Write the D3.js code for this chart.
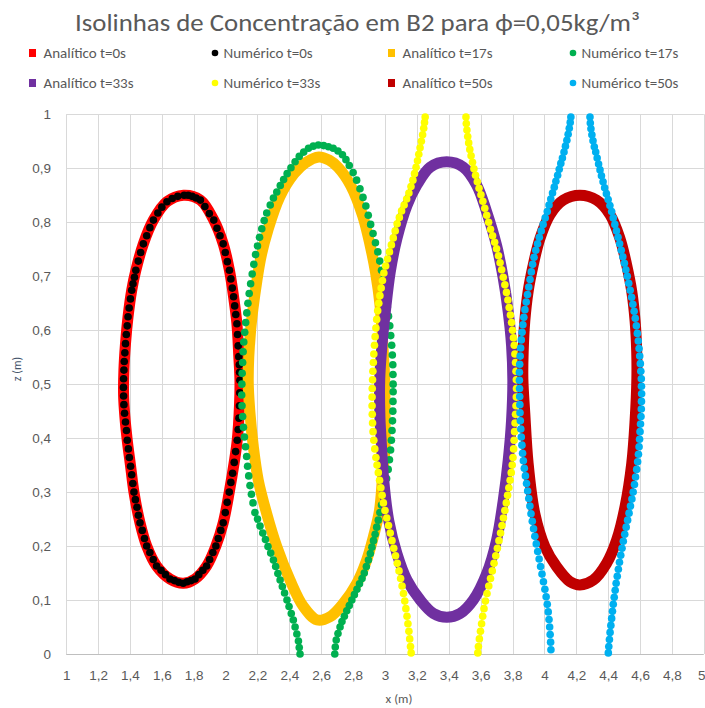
<!DOCTYPE html>
<html>
<head>
<meta charset="utf-8">
<script src="https://cdn.jsdelivr.net/npm/d3@7"></script>
<style>
  html, body { margin: 0; padding: 0; background: #ffffff; }
  svg { display: block; font-family: Calibri, Carlito, Lato, "Open Sans", sans-serif; }
</style>
</head>
<body>
<div id="chart"></div>
<script>
// ---- Tick values ----
const xTickValues = [1, 1.2, 1.4, 1.6, 1.8, 2, 2.2, 2.4, 2.6, 2.8, 3, 3.2, 3.4, 3.6, 3.8, 4, 4.2, 4.4, 4.6, 4.8, 5];
const yTickValues = [0, 0.1, 0.2, 0.3, 0.4, 0.5, 0.6, 0.7, 0.8, 0.9, 1];

// ---- Series names (legend order) ----
const seriesNames = [
  "Analítico t=0s", "Numérico t=0s", "Analítico t=17s", "Numérico t=17s",
  "Analítico t=33s", "Numérico t=33s", "Analítico t=50s", "Numérico t=50s"
];

// ---- Analytical isolines (x, z) in metres, closed contours ----
const analiticoT0 = [
  [1.736,0.850],[1.632,0.838],[1.547,0.804],[1.484,0.760],[1.437,0.711],[1.411,0.674],[1.388,0.625],
  [1.372,0.575],[1.362,0.526],[1.360,0.480],[1.368,0.440],[1.383,0.396],[1.404,0.348],[1.425,0.300],
  [1.463,0.243],[1.505,0.200],[1.567,0.163],[1.651,0.139],[1.734,0.131],[1.808,0.139],[1.881,0.163],
  [1.939,0.200],[1.985,0.243],[2.023,0.300],[2.054,0.355],[2.073,0.396],[2.087,0.460],[2.090,0.507],
  [2.083,0.551],[2.071,0.612],[2.050,0.662],[2.024,0.711],[1.985,0.760],[1.926,0.804],[1.842,0.841]
];
const analiticoT17 = [
  [2.585,0.921],[2.500,0.910],[2.430,0.890],[2.340,0.847],[2.265,0.785],[2.225,0.740],[2.197,0.693],
  [2.157,0.600],[2.142,0.507],[2.153,0.446],[2.174,0.384],[2.205,0.322],[2.258,0.260],[2.321,0.199],
  [2.404,0.137],[2.488,0.088],[2.575,0.063],[2.655,0.069],[2.739,0.094],[2.823,0.131],[2.885,0.174],
  [2.927,0.217],[2.965,0.265],[2.985,0.330],[3.000,0.384],[3.000,0.446],[2.998,0.510],[2.985,0.580],
  [2.969,0.646],[2.940,0.708],[2.907,0.757],[2.860,0.812],[2.785,0.868],[2.705,0.902],[2.650,0.915]
];
const analiticoT33 = [
  [3.387,0.912],[3.283,0.902],[3.200,0.869],[3.138,0.831],[3.075,0.770],[3.033,0.708],[3.002,0.634],
  [2.981,0.572],[2.967,0.510],[2.968,0.440],[2.975,0.400],[2.992,0.322],[3.023,0.248],[3.075,0.186],
  [3.138,0.137],[3.221,0.100],[3.304,0.075],[3.388,0.068],[3.471,0.075],[3.554,0.100],[3.638,0.149],
  [3.700,0.211],[3.742,0.285],[3.773,0.359],[3.794,0.433],[3.802,0.507],[3.794,0.572],[3.773,0.634],
  [3.742,0.696],[3.700,0.757],[3.638,0.819],[3.575,0.869],[3.492,0.902]
];
const analiticoT50 = [
  [4.223,0.850],[4.118,0.841],[4.035,0.814],[3.972,0.770],[3.930,0.721],[3.898,0.672],[3.877,0.617],
  [3.867,0.561],[3.865,0.510],[3.877,0.446],[3.898,0.353],[3.940,0.260],[4.003,0.199],[4.076,0.162],
  [4.160,0.134],[4.223,0.128],[4.307,0.137],[4.390,0.168],[4.453,0.211],[4.506,0.273],[4.548,0.353],
  [4.569,0.433],[4.580,0.510],[4.579,0.561],[4.569,0.617],[4.548,0.672],[4.516,0.721],[4.474,0.770],
  [4.412,0.814],[4.328,0.841]
];

// ---- Numerical isolines: individual model points (x, z) ----
const numericoT0 = [
  [1.740,0.850],[1.700,0.848],[1.665,0.844],[1.632,0.838],[1.600,0.828],[1.575,0.817],[1.547,0.804],
  [1.525,0.790],[1.505,0.775],[1.484,0.760],[1.467,0.744],[1.452,0.728],[1.437,0.711],[1.428,0.698],
  [1.419,0.686],[1.411,0.674],[1.403,0.658],[1.395,0.641],[1.388,0.625],[1.383,0.608],[1.377,0.592],
  [1.372,0.575],[1.368,0.558],[1.364,0.542],[1.362,0.526],[1.360,0.510],[1.359,0.494],[1.360,0.478],
  [1.362,0.462],[1.366,0.446],[1.372,0.430],[1.378,0.414],[1.383,0.396],[1.390,0.380],[1.396,0.364],
  [1.404,0.348],[1.411,0.332],[1.418,0.316],[1.425,0.300],[1.434,0.286],[1.444,0.272],[1.453,0.257],
  [1.463,0.243],[1.477,0.229],[1.491,0.214],[1.505,0.200],[1.525,0.188],[1.546,0.175],[1.567,0.163],
  [1.595,0.155],[1.623,0.147],[1.651,0.139],[1.679,0.136],[1.706,0.133],[1.734,0.131],[1.759,0.134],
  [1.784,0.136],[1.808,0.139],[1.832,0.147],[1.857,0.155],[1.881,0.163],[1.900,0.175],[1.920,0.188],
  [1.939,0.200],[1.954,0.214],[1.970,0.229],[1.985,0.243],[1.998,0.262],[2.010,0.281],[2.023,0.300],
  [2.033,0.318],[2.044,0.335],[2.054,0.355],[2.063,0.375],[2.073,0.396],[2.079,0.416],[2.084,0.437],
  [2.087,0.460],[2.089,0.484],[2.090,0.507],[2.088,0.522],[2.086,0.536],[2.083,0.551],[2.079,0.571],
  [2.075,0.592],[2.071,0.612],[2.064,0.629],[2.057,0.645],[2.050,0.662],[2.042,0.678],[2.033,0.695],
  [2.024,0.711],[2.011,0.727],[1.998,0.744],[1.985,0.760],[1.965,0.775],[1.946,0.789],[1.926,0.804],
  [1.898,0.816],[1.870,0.829],[1.842,0.841],[1.815,0.845],[1.790,0.848],[1.765,0.850]
];
const numericoT17 = [
  [2.467,0.000],[2.462,0.012],[2.457,0.024],[2.447,0.037],[2.436,0.050],[2.425,0.063],[2.412,0.075],
  [2.398,0.088],[2.385,0.100],[2.370,0.113],[2.356,0.125],[2.342,0.137],[2.328,0.149],[2.314,0.162],
  [2.300,0.174],[2.283,0.187],[2.266,0.199],[2.250,0.212],[2.233,0.224],[2.216,0.237],[2.200,0.250],
  [2.184,0.262],[2.172,0.280],[2.162,0.296],[2.153,0.312],[2.145,0.330],[2.138,0.348],[2.132,0.366],
  [2.125,0.384],[2.118,0.402],[2.112,0.420],[2.107,0.440],[2.103,0.460],[2.101,0.480],[2.102,0.500],
  [2.104,0.520],[2.107,0.540],[2.110,0.560],[2.114,0.578],[2.120,0.596],[2.126,0.614],[2.133,0.632],
  [2.140,0.650],[2.148,0.668],[2.157,0.686],[2.167,0.704],[2.177,0.722],[2.188,0.740],[2.200,0.756],
  [2.213,0.772],[2.227,0.788],[2.242,0.803],[2.258,0.817],[2.280,0.832],[2.300,0.845],[2.321,0.856],
  [2.343,0.868],[2.364,0.879],[2.386,0.890],[2.410,0.901],[2.436,0.912],[2.462,0.922],[2.490,0.930],
  [2.520,0.937],[2.550,0.941],[2.582,0.943],[2.615,0.942],[2.645,0.940],[2.675,0.937],[2.705,0.932],
  [2.733,0.925],[2.755,0.916],[2.776,0.905],[2.800,0.892],[2.822,0.878],[2.843,0.862],[2.862,0.846],
  [2.880,0.830],[2.895,0.813],[2.910,0.796],[2.925,0.779],[2.940,0.762],[2.955,0.745],[2.967,0.728],
  [2.978,0.711],[2.988,0.694],[2.998,0.677],[3.007,0.660],[3.015,0.643],[3.022,0.626],[3.030,0.608],
  [3.036,0.590],[3.042,0.572],[3.046,0.554],[3.049,0.536],[3.050,0.518],[3.051,0.500],[3.051,0.486],
  [3.050,0.468],[3.049,0.450],[3.047,0.432],[3.044,0.414],[3.040,0.396],[3.035,0.378],[3.028,0.360],
  [3.020,0.342],[3.010,0.325],[3.000,0.308],[2.990,0.292],[2.978,0.276],[2.968,0.262],[2.958,0.248],
  [2.948,0.235],[2.938,0.222],[2.928,0.210],[2.918,0.198],[2.908,0.186],[2.896,0.174],[2.883,0.162],
  [2.870,0.150],[2.856,0.140],[2.840,0.130],[2.824,0.120],[2.808,0.110],[2.792,0.100],[2.776,0.090],
  [2.760,0.080],[2.745,0.070],[2.730,0.060],[2.718,0.050],[2.705,0.038],[2.694,0.026],[2.688,0.013],
  [2.685,0.000]
];
const numericoT33 = [
  [3.252,0.995],[3.248,0.985],[3.243,0.974],[3.236,0.962],[3.228,0.950],[3.220,0.938],[3.212,0.926],
  [3.204,0.914],[3.195,0.902],[3.185,0.890],[3.175,0.878],[3.163,0.866],[3.150,0.854],[3.136,0.843],
  [3.120,0.832],[3.104,0.821],[3.090,0.809],[3.076,0.797],[3.064,0.784],[3.052,0.771],[3.040,0.758],
  [3.028,0.745],[3.016,0.732],[3.004,0.719],[2.993,0.706],[2.984,0.692],[2.976,0.678],[2.968,0.664],
  [2.961,0.650],[2.954,0.636],[2.948,0.620],[2.943,0.604],[2.938,0.588],[2.934,0.572],[2.930,0.556],
  [2.927,0.540],[2.924,0.524],[2.922,0.508],[2.920,0.492],[2.919,0.476],[2.919,0.460],[2.920,0.444],
  [2.922,0.428],[2.925,0.412],[2.930,0.396],[2.936,0.380],[2.943,0.364],[2.950,0.350],[2.958,0.336],
  [2.966,0.322],[2.974,0.308],[2.982,0.294],[2.990,0.280],[3.000,0.266],[3.011,0.252],[3.022,0.238],
  [3.033,0.224],[3.044,0.210],[3.055,0.196],[3.066,0.182],[3.077,0.168],[3.088,0.154],[3.098,0.140],
  [3.107,0.126],[3.116,0.112],[3.124,0.098],[3.131,0.084],[3.138,0.070],[3.144,0.056],[3.150,0.042],
  [3.155,0.028],[3.160,0.014],[3.164,0.002],
  [3.508,0.995],[3.510,0.983],[3.514,0.971],[3.519,0.959],[3.525,0.947],[3.532,0.935],[3.540,0.923],
  [3.549,0.911],[3.558,0.899],[3.568,0.887],[3.579,0.875],[3.590,0.863],[3.602,0.851],[3.614,0.839],
  [3.626,0.826],[3.638,0.813],[3.650,0.800],[3.662,0.787],[3.675,0.775],[3.688,0.763],[3.700,0.751],
  [3.712,0.738],[3.722,0.725],[3.732,0.712],[3.742,0.698],[3.752,0.684],[3.762,0.670],[3.771,0.656],
  [3.779,0.642],[3.787,0.628],[3.794,0.614],[3.800,0.600],[3.806,0.586],[3.811,0.572],[3.815,0.556],
  [3.819,0.540],[3.822,0.524],[3.824,0.508],[3.825,0.492],[3.824,0.476],[3.822,0.460],[3.819,0.444],
  [3.816,0.428],[3.813,0.412],[3.810,0.396],[3.807,0.380],[3.803,0.364],[3.798,0.350],[3.792,0.336],
  [3.785,0.322],[3.777,0.308],[3.769,0.294],[3.761,0.280],[3.752,0.266],[3.743,0.252],[3.734,0.238],
  [3.725,0.224],[3.715,0.210],[3.705,0.196],[3.695,0.182],[3.684,0.168],[3.673,0.154],[3.662,0.140],
  [3.651,0.126],[3.640,0.112],[3.630,0.098],[3.621,0.084],[3.613,0.070],[3.606,0.056],[3.599,0.042],
  [3.592,0.028],[3.586,0.014],[3.582,0.002]
];
const numericoT50 = [
  [4.166,0.995],[4.162,0.985],[4.156,0.974],[4.149,0.963],[4.141,0.952],[4.132,0.941],[4.123,0.930],
  [4.113,0.919],[4.103,0.909],[4.093,0.898],[4.083,0.887],[4.072,0.876],[4.062,0.865],[4.051,0.854],
  [4.040,0.843],[4.029,0.832],[4.018,0.820],[4.005,0.808],[3.992,0.796],[3.980,0.784],[3.968,0.772],
  [3.957,0.760],[3.946,0.748],[3.935,0.735],[3.926,0.722],[3.918,0.708],[3.910,0.694],[3.902,0.680],
  [3.894,0.666],[3.886,0.652],[3.878,0.638],[3.871,0.624],[3.865,0.610],[3.860,0.596],[3.855,0.582],
  [3.851,0.567],[3.848,0.552],[3.845,0.537],[3.843,0.522],[3.843,0.507],[3.844,0.492],[3.845,0.477],
  [3.846,0.462],[3.847,0.447],[3.849,0.432],[3.852,0.417],[3.855,0.402],[3.859,0.387],[3.863,0.372],
  [3.868,0.358],[3.874,0.344],[3.881,0.330],[3.888,0.316],[3.895,0.302],[3.902,0.288],[3.909,0.274],
  [3.916,0.260],[3.924,0.246],[3.932,0.232],[3.940,0.218],[3.949,0.204],[3.958,0.190],[3.967,0.176],
  [3.976,0.162],[3.985,0.148],[3.994,0.134],[4.003,0.120],[4.011,0.106],[4.018,0.092],[4.024,0.078],
  [4.029,0.064],[4.033,0.050],[4.036,0.036],[4.039,0.022],[4.041,0.008],
  [4.286,0.995],[4.288,0.984],[4.292,0.973],[4.298,0.962],[4.305,0.951],[4.313,0.940],[4.322,0.930],
  [4.331,0.919],[4.340,0.908],[4.349,0.897],[4.358,0.886],[4.368,0.875],[4.378,0.864],[4.389,0.853],
  [4.400,0.842],[4.411,0.831],[4.422,0.820],[4.432,0.808],[4.442,0.796],[4.452,0.784],[4.462,0.772],
  [4.472,0.760],[4.482,0.748],[4.492,0.736],[4.502,0.724],[4.511,0.712],[4.520,0.700],[4.529,0.687],
  [4.538,0.674],[4.547,0.661],[4.555,0.648],[4.563,0.635],[4.570,0.622],[4.577,0.608],[4.583,0.594],
  [4.589,0.580],[4.594,0.566],[4.598,0.552],[4.602,0.538],[4.605,0.524],[4.608,0.510],[4.609,0.496],
  [4.610,0.482],[4.609,0.468],[4.608,0.454],[4.606,0.440],[4.603,0.426],[4.600,0.412],[4.597,0.398],
  [4.594,0.384],[4.590,0.370],[4.585,0.356],[4.579,0.342],[4.572,0.328],[4.565,0.314],[4.557,0.300],
  [4.549,0.287],[4.540,0.274],[4.531,0.261],[4.522,0.248],[4.513,0.235],[4.504,0.222],[4.495,0.209],
  [4.487,0.196],[4.479,0.183],[4.471,0.170],[4.464,0.157],[4.457,0.144],[4.450,0.131],[4.444,0.118],
  [4.438,0.105],[4.432,0.092],[4.427,0.079],[4.422,0.066],[4.417,0.053],[4.412,0.040],[4.408,0.027],
  [4.404,0.014],[4.401,0.002]
];

// ---- Series table (drawing order = legend order) ----
const series = [
  { name: seriesNames[0], kind: "analitico", color: "#FF0000", data: analiticoT0 },
  { name: seriesNames[1], kind: "numerico",  color: "#000000", data: numericoT0 },
  { name: seriesNames[2], kind: "analitico", color: "#FFC000", data: analiticoT17 },
  { name: seriesNames[3], kind: "numerico",  color: "#00B050", data: numericoT17 },
  { name: seriesNames[4], kind: "analitico", color: "#7030A0", data: analiticoT33 },
  { name: seriesNames[5], kind: "numerico",  color: "#FFFF00", data: numericoT33 },
  { name: seriesNames[6], kind: "analitico", color: "#C00000", data: analiticoT50 },
  { name: seriesNames[7], kind: "numerico",  color: "#00B0F0", data: numericoT50 }
];

// ---- Layout ----
const W = 705, H = 708;
const plot = { left: 66.2, right: 703.8, top: 114.3, bottom: 654 };
const textColor = "#595959";
const gridColor = "#D9D9D9";

const x = d3.scaleLinear().domain([1, 5]).range([plot.left, plot.right]);
const y = d3.scaleLinear().domain([0, 1]).range([plot.bottom, plot.top]);
const fmt = v => String(+v.toFixed(1)).replace(".", ",");
const crisp = v => Math.round(v) + 0.5;

const svg = d3.select("#chart").append("svg")
  .attr("width", W).attr("height", H)
  .attr("viewBox", `0 0 ${W} ${H}`);

svg.append("rect").attr("width", W).attr("height", H).attr("fill", "#ffffff");

// Title
svg.append("text")
  .attr("x", 357.5).attr("y", 31)
  .attr("text-anchor", "middle")
  .attr("fill", textColor)
  .style("font-size", "25px")
  .attr("textLength", 565).attr("lengthAdjust", "spacingAndGlyphs")
  .text("Isolinhas de Concentração em B2 para ϕ=0,05kg/m³");

// Gridlines
const grid = svg.append("g").attr("class", "grid");
grid.selectAll("line.v").data(xTickValues).join("line")
  .attr("class", "v")
  .attr("x1", d => crisp(x(d))).attr("x2", d => crisp(x(d)))
  .attr("y1", y(0)).attr("y2", y(1))
  .attr("stroke", gridColor).attr("stroke-width", 1);
grid.selectAll("line.h").data(yTickValues).join("line")
  .attr("class", "h")
  .attr("y1", d => crisp(y(d))).attr("y2", d => crisp(y(d)))
  .attr("x1", x(1)).attr("x2", x(5))
  .attr("stroke", d => d === 0 ? "#BFBFBF" : gridColor).attr("stroke-width", 1);

// Axes (labels only; lines come from the grid)
const xAxis = d3.axisBottom(x).tickValues(xTickValues).tickFormat(fmt).tickSize(0).tickPadding(0);
const gx = svg.append("g").attr("transform", `translate(0,${plot.bottom + 26})`).call(xAxis);
gx.select(".domain").remove();
gx.selectAll("text").attr("fill", textColor).attr("dy", 0)
  .style("font-size", "13.5px").style("font-family", null);
// the last label sits on the right edge of the page: keep it inside
gx.selectAll(".tick").filter(d => d === 5).select("text")
  .attr("text-anchor", "end").attr("x", W - 703.8);

const yAxis = d3.axisLeft(y).tickValues(yTickValues).tickFormat(fmt).tickSize(0).tickPadding(0);
const gy = svg.append("g").attr("transform", `translate(${51},0)`).call(yAxis);
gy.select(".domain").remove();
gy.selectAll("text").attr("fill", textColor).attr("dy", "0.33em").attr("x", 0)
  .style("font-size", "13.5px").style("font-family", null);

// Axis titles
svg.append("text")
  .attr("x", 399).attr("y", 703)
  .attr("text-anchor", "middle")
  .attr("fill", textColor)
  .style("font-size", "13px")
  .text("x (m)");
svg.append("text")
  .attr("transform", "translate(21,369) rotate(-90)")
  .attr("text-anchor", "middle")
  .attr("fill", "#44546A")
  .style("font-size", "12px")
  .text("z (m)");

// Series
const contour = d3.line()
  .x(d => x(d[0])).y(d => y(d[1]))
  .curve(d3.curveCatmullRomClosed.alpha(0.5));

const layer = svg.append("g").attr("class", "series");
series.forEach(s => {
  if (s.kind === "analitico") {
    layer.append("path")
      .datum(s.data)
      .attr("d", contour)
      .attr("fill", "none")
      .attr("stroke", s.color)
      .attr("stroke-width", 11)
      .attr("stroke-linejoin", "round");
  } else {
    layer.append("g").selectAll("circle").data(s.data).join("circle")
      .attr("cx", d => x(d[0])).attr("cy", d => y(d[1]))
      .attr("r", 3.8)
      .attr("fill", s.color);
  }
});

// Legend: two rows of four entries
const legendCols = [30, 210, 389, 568];
const legendRows = [53, 83];
const legend = svg.append("g").attr("class", "legend");
series.forEach((s, i) => {
  const cx = legendCols[i % 4];
  const cy = legendRows[Math.floor(i / 4)];
  const g = legend.append("g");
  if (s.kind === "analitico") {
    g.append("rect").attr("x", cx - 1).attr("y", cy - 4).attr("width", 7).attr("height", 8)
      .attr("fill", s.color);
  } else {
    g.append("circle").attr("cx", cx + 5).attr("cy", cy).attr("r", 3.3).attr("fill", s.color);
  }
  g.append("text")
    .attr("x", cx + 13.5).attr("y", cy + 5.2)
    .attr("fill", textColor)
    .style("font-size", "15px")
    .text(s.name);
});
</script>
</body>
</html>
